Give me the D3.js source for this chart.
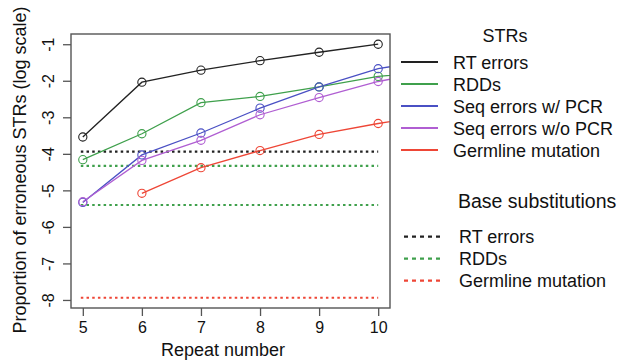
<!DOCTYPE html>
<html><head><meta charset="utf-8">
<script src="https://cdn.jsdelivr.net/npm/d3@7"></script>
<style>body{margin:0;background:#fff;} svg{display:block;font-family:"Liberation Sans",Arial,sans-serif;}</style>
</head><body><svg id="c" width="619" height="361"></svg>
<script>
const repeats = [5, 6, 7, 8, 9, 10, 11];
const seriesNames = ["RT errors", "RDDs", "Seq errors w/ PCR", "Seq errors w/o PCR", "Germline mutation"];
const seriesColors = ["#222222", "#3fa04c", "#4a50c4", "#b05ed2", "#ee4636"];
const rtErrors = [-3.54, -2.04, -1.71, -1.45, -1.22, -1.00, null];
const rdds = [-4.16, -3.45, -2.60, -2.43, -2.17, -1.88, -1.74];
const seqPcr = [-5.33, -4.03, -3.43, -2.75, -2.17, -1.67, -1.40];
const seqNoPcr = [-5.31, -4.18, -3.63, -2.93, -2.46, -2.02, -1.71];
const germline = [null, -5.08, -4.38, -3.91, -3.47, -3.17, -2.90];
const baseNames = ["RT errors", "RDDs", "Germline mutation"];
const baseColors = ["#222222", "#3fa04c", "#ee4636"];
const baseLines = [[-3.94], [-4.33, -5.40], [-7.94]];
const yTicks = [-1, -2, -3, -4, -5, -6, -7, -8];
const xTicks = [5, 6, 7, 8, 9, 10];

const svg = d3.select("#c");
const L = 71, R = 390, T = 34, B = 308;
const x = d3.scaleLinear().domain([4.8, 10.2]).range([L, R]);
const y = d3.scaleLinear().domain([-8.22, -0.72]).range([B, T]);

svg.append("defs").append("clipPath").attr("id", "clip")
  .append("rect").attr("x", L).attr("y", T).attr("width", R - L).attr("height", B - T);

const plot = svg.append("g").attr("clip-path", "url(#clip)");
baseLines.forEach((vals, i) => {
  vals.forEach(v => {
    plot.append("line").attr("x1", x(5) - 2).attr("x2", x(10)).attr("y1", y(v)).attr("y2", y(v))
      .attr("stroke", baseColors[i]).attr("stroke-width", 2.2).attr("stroke-dasharray", "2.5,3.2");
  });
});

const allSeries = [rtErrors, rdds, seqPcr, seqNoPcr, germline];
const line = d3.line().defined(d => d[1] != null).x(d => x(d[0])).y(d => y(d[1]));
allSeries.forEach((vals, i) => {
  const pts = repeats.map((r, j) => [r, vals[j]]);
  plot.append("path").attr("d", line(pts)).attr("fill", "none")
    .attr("stroke", seriesColors[i]).attr("stroke-width", 1.3);
});
allSeries.forEach((vals, i) => {
  const pts = repeats.map((r, j) => [r, vals[j]]).filter(d => d[1] != null && d[0] <= 10);
  svg.append("g").selectAll("circle").data(pts).join("circle")
    .attr("cx", d => x(d[0])).attr("cy", d => y(d[1])).attr("r", 4.1)
    .attr("fill", "none").attr("stroke", seriesColors[i]).attr("stroke-width", 1.1);
});

svg.append("rect").attr("x", L).attr("y", T).attr("width", R - L).attr("height", B - T)
  .attr("fill", "none").attr("stroke", "#555").attr("stroke-width", 1.4);

const xa = svg.append("g").attr("transform", `translate(0,${B})`)
  .call(d3.axisBottom(x).tickValues(xTicks).tickSize(8).tickPadding(6).tickFormat(d3.format("d")));
xa.select(".domain").remove();
xa.selectAll("line").attr("stroke", "#555").attr("stroke-width", 1.3);
xa.selectAll("text").attr("font-size", 16).attr("fill", "#111").attr("font-family", "Liberation Sans, Arial");

const ya = svg.append("g").attr("transform", `translate(${L},0)`)
  .call(d3.axisLeft(y).tickValues(yTicks).tickSize(8).tickFormat(d => d3.format("d")(d).replace("−", "-")));
ya.select(".domain").remove();
ya.selectAll("line").attr("stroke", "#555").attr("stroke-width", 1.3);
ya.selectAll("text").attr("font-size", 16).attr("fill", "#111").attr("font-family", "Liberation Sans, Arial")
  .attr("text-anchor", "middle").attr("dy", null).attr("x", null)
  .attr("transform", "translate(-21,0) rotate(-90)").attr("dominant-baseline", "middle");

svg.append("text").attr("x", 223).attr("y", 356).attr("text-anchor", "middle")
  .attr("font-size", 18).attr("fill", "#111").text("Repeat number");
svg.append("text").attr("transform", `translate(26,170) rotate(-90)`)
  .attr("text-anchor", "middle").attr("font-size", 18).attr("fill", "#111")
  .text("Proportion of erroneous STRs (log scale)");

const lg = svg.append("g");
lg.append("text").attr("x", 505).attr("y", 42).attr("text-anchor", "middle").attr("font-size", 18).attr("fill", "#111").text("STRs");
seriesNames.forEach((n, i) => {
  const yy = 62 + i * 22;
  lg.append("line").attr("x1", 401).attr("x2", 438).attr("y1", yy).attr("y2", yy)
    .attr("stroke", seriesColors[i]).attr("stroke-width", 2.2);
  lg.append("text").attr("x", 453).attr("y", yy + 6.5).attr("font-size", 18).attr("fill", "#111").text(n);
});
lg.append("text").attr("x", 458).attr("y", 208).attr("font-size", 19.5).attr("fill", "#111").text("Base substitutions");
baseNames.forEach((n, i) => {
  const yy = 236.7 + i * 22;
  lg.append("line").attr("x1", 404).attr("x2", 442).attr("y1", yy).attr("y2", yy)
    .attr("stroke", baseColors[i]).attr("stroke-width", 2.2).attr("stroke-dasharray", "4,4");
  lg.append("text").attr("x", 459).attr("y", yy + 6.5).attr("font-size", 18).attr("fill", "#111").text(n);
});
</script></body></html>
